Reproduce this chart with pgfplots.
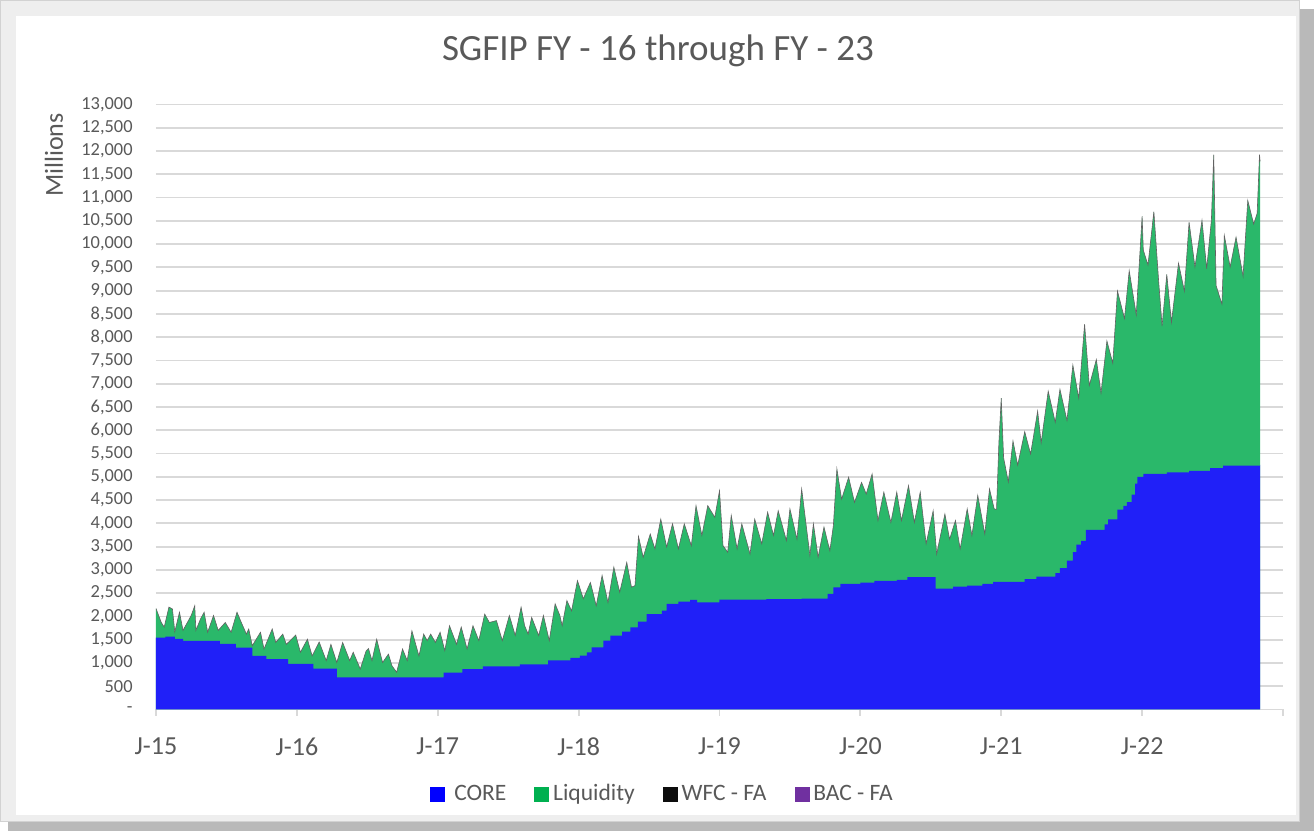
\documentclass[border=0pt]{standalone}
\usepackage{pgfplots}
\usepackage{pgfplotstable}
\pgfplotsset{compat=1.18}
\usepackage{fontspec}
\setmainfont{Carlito}
\definecolor{txt}{HTML}{595959}
\definecolor{coreblue}{RGB}{32,32,248}
\definecolor{liqgreen}{RGB}{42,184,106}
\definecolor{legblue}{HTML}{0000FF}
\definecolor{leggreen}{HTML}{00B050}
\definecolor{legblack}{HTML}{0D0D0D}
\definecolor{legpurple}{HTML}{7030A0}
\definecolor{gridc}{HTML}{D9D9D9}

% month index (0 = Jan 2015) and cumulative top of the stack
\pgfplotstableread{
m v
0 2170
0.45 1870
0.7 1770
1.1 2200
1.4 2160
1.6 1670
2.0 2090
2.3 1700
3.0 2020
3.3 2230
3.4 1700
3.8 1950
4.1 2090
4.4 1660
4.9 2020
5.3 1700
5.9 1870
6.4 1660
6.9 2090
7.2 1910
7.7 1620
7.9 1730
8.2 1370
8.9 1660
9.2 1300
9.9 1730
10.2 1440
10.8 1620
11.1 1400
11.9 1600
12.3 1230
12.9 1510
13.3 1150
13.9 1450
14.5 1050
14.9 1400
15.4 1010
15.9 1440
16.5 1050
16.8 1230
17.4 870
17.9 1260
18.1 1310
18.4 1050
18.8 1510
19.3 1010
19.8 1190
20.1 940
20.5 800
21.0 1300
21.4 1050
21.8 1690
22.4 1150
22.8 1620
23.1 1480
23.4 1620
23.8 1440
24.2 1660
24.6 1265
25.0 1800
25.6 1400
26.0 1770
26.5 1300
27.0 1800
27.5 1480
28.0 2050
28.4 1870
29.0 1910
29.5 1480
30.1 2020
30.6 1590
31.1 2200
31.4 1800
31.7 1620
32.0 1980
32.6 1590
33.0 2020
33.5 1480
34.0 2270
34.4 2020
34.6 1800
35.0 2340
35.4 2120
35.9 2770
36.4 2380
37.0 2730
37.5 2230
38.0 2880
38.5 2300
39.0 3060
39.5 2520
40.1 3160
40.5 2630
40.8 2660
41.1 3720
41.5 3270
42.1 3770
42.5 3450
43.0 4090
43.5 3490
44.0 3990
44.5 3450
45.0 3990
45.6 3520
46.0 4380
46.5 3740
47.0 4380
47.6 4130
48.0 4700
48.3 3520
48.7 3380
49.0 4170
49.5 3450
49.9 3990
50.6 3340
51.0 4090
51.6 3560
52.1 4240
52.6 3740
53.0 4270
53.7 3630
54.0 4310
54.6 3660
55.0 4740
55.7 3310
56.0 3990
56.4 3270
56.9 3920
57.4 3410
57.7 3950
58.0 5170
58.4 4520
59.0 4990
59.5 4450
60.1 4880
60.5 4630
61.0 5060
61.5 4060
62.0 4670
62.6 4020
63.1 4670
63.5 4060
64.1 4810
64.6 4020
65.1 4670
65.6 3560
66.2 4270
66.5 3340
67.2 4200
67.6 3660
68.1 4060
68.5 3450
69.1 4310
69.5 3740
70.0 4600
70.6 3770
71.0 4740
71.4 4310
71.6 4300
71.8 5730
72.0 6690
72.2 5410
72.6 4890
73.0 5770
73.4 5250
74.0 5970
74.5 5490
75.1 6410
75.4 5730
76.0 6840
76.6 6170
77.0 6880
77.6 6210
78.1 7400
78.6 6690
79.1 8280
79.5 6960
80.1 7520
80.5 6800
81.0 7920
81.5 7440
81.9 8990
82.5 8400
82.9 9430
83.5 8480
84.0 10600
84.1 9870
84.5 9550
85.0 10700
85.4 9230
85.7 8240
86.1 9350
86.5 8320
87.1 9590
87.6 8990
88.0 10470
88.5 9510
89.1 10510
89.5 9470
89.9 10510
90.1 11920
90.3 9110
90.8 8710
91.0 10190
91.5 9510
92.0 10150
92.6 9310
93.0 10940
93.5 10430
93.8 10660
94.0 11920
94.05 11780
}\toptable

% CORE level (step function)
\pgfplotstableread{
m v
0 1545
0.8 1565
1.6 1515
2.3 1475
5.45 1410
6.8 1330
8.2 1150
9.4 1085
11.25 980
13.4 880
15.4 690
24.5 795
26.1 870
27.85 928
31.0 971
33.4 1057
35.3 1107
36.1 1157
36.7 1229
37.1 1336
38.1 1479
38.7 1587
39.7 1673
40.4 1766
41.05 1888
41.8 2052
43.1 2124
43.5 2267
44.5 2317
45.5 2353
46.1 2300
48.0 2360
52.0 2370
55.0 2385
57.2 2482
57.7 2625
58.3 2697
60.0 2726
61.2 2762
63.1 2783
64.0 2847
66.4 2597
67.9 2640
69.1 2661
70.4 2697
71.3 2745
74.0 2801
75.0 2857
76.6 2928
77.0 3040
77.6 3199
78.1 3382
78.4 3541
78.8 3621
79.2 3860
80.8 3979
81.1 4083
81.9 4297
82.4 4377
82.7 4456
83.1 4616
83.4 4854
83.6 4998
84.1 5061
86.1 5093
88.0 5125
89.8 5189
90.9 5240
94.05 5255
}\coretable

\begin{document}
\begin{tikzpicture}[x=1pt,y=1pt]
% chart frame
\fill[gray!55] (4,0) rectangle (657,411);
\fill[gray!13] (0,4.5) rectangle (650,415.5);
\draw[gray!35, line width=0.6pt] (0.3,4.8) rectangle (649.7,415.2);
\fill[white] (8,8) rectangle (648,407.5);

\node[text=txt, font=\fontsize{18.5}{22}\selectfont] at (329,390) {SGFIP FY - 16 through FY - 23};
\node[rotate=90, text=txt, font=\fontsize{13}{15}\selectfont] at (27,338) {Millions};

\begin{axis}[
  at={(78pt,60.75pt)}, anchor=south west,
  scale only axis, width=563.5pt, height=302.5pt,
  xmin=0, xmax=96, ymin=0, ymax=13000,
  scaled y ticks=false, scaled x ticks=false,
  axis x line*=bottom, axis y line*=left,
  x axis line style={gridc, line width=0.9pt, -},
  y axis line style={draw=none},
  xtick={0,12,...,96},
  xticklabels={J-15,J-16,J-17,J-18,J-19,J-20,J-21,J-22,{}},
  ytick={0,500,...,13000},
  yticklabels={-,500,{1,000},{1,500},{2,000},{2,500},{3,000},{3,500},{4,000},{4,500},{5,000},{5,500},{6,000},{6,500},{7,000},{7,500},{8,000},{8,500},{9,000},{9,500},{10,000},{10,500},{11,000},{11,500},{12,000},{12,500},{13,000}},
  tick align=outside, major tick length=3pt,
  xtick style={gridc, line width=0.9pt},
  ytick style={draw=none},
  ymajorgrids, grid style={gridc, line width=0.9pt},
  x tick label style={font=\fontsize{13}{15}\selectfont, text=txt, inner sep=0pt, anchor=north, yshift=-11pt},
  y tick label style={font=\fontsize{9.2}{11}\selectfont, text=txt, inner sep=0pt, anchor=east, xshift=-8.5pt},
  legend image code/.code={\fill[#1] (0pt,-3.5pt) rectangle (7pt,3.5pt);},
  legend style={at={(0.45,-0.14)}, anchor=center, draw=none, fill=none,
    legend columns=-1, font=\fontsize{11.75}{14}\selectfont, text=txt,
    /tikz/every even column/.append style={column sep=12pt}},
]
\addplot[fill=liqgreen, draw=none, forget plot] table[x=m, y=v] {\toptable} \closedcycle;
\addplot[legblack!65, line width=0.3pt, forget plot] table[x=m, y=v] {\toptable};
\addplot[const plot, fill=coreblue, draw=none, forget plot] table[x=m, y=v] {\coretable} \closedcycle;
\addlegendimage{legblue}
\addlegendentry{\hspace{3pt}CORE}
\addlegendimage{leggreen}
\addlegendentry{Liquidity}
\addlegendimage{legblack}
\addlegendentry{WFC - FA}
\addlegendimage{legpurple}
\addlegendentry{BAC - FA}
\end{axis}
\end{tikzpicture}
\end{document}
